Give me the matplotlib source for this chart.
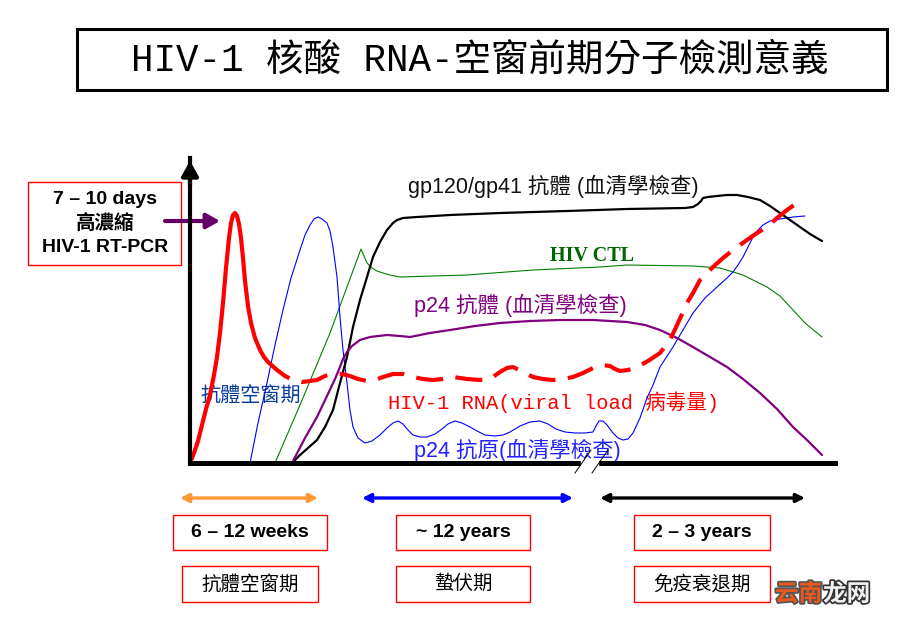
import matplotlib
matplotlib.use("Agg")
import matplotlib.pyplot as plt
from matplotlib.patches import Rectangle
import matplotlib.patheffects as pe

# ---------------- data (time units, level units) ----------------
rna_peak_x = [0, 4, 8, 12, 16, 20, 24, 27, 30, 33, 36, 39, 41, 43, 45, 47, 49, 51, 53, 55,
              58, 61, 65, 70, 74, 78]
rna_peak_y = [0, 10, 22, 38, 54, 68, 88, 106, 130, 160, 195, 225, 240, 248, 250, 247, 239,
              225, 205, 182, 157, 140, 125, 113, 106, 101]

rna_set_x = [78, 87, 95, 103, 112, 120, 127, 135, 143, 152, 160, 168, 177, 185, 193, 203, 213,
             223, 233, 243, 253, 263, 277, 290, 300, 310, 317, 323, 333, 343, 353, 363, 373,
             383, 393, 403, 412, 420, 425, 430, 438, 447, 458, 470, 480, 488, 497, 503, 510,
             517, 523, 533, 543, 557, 567, 577, 587, 597, 604, 610]
rna_set_y = [101, 93, 87, 83, 81, 82, 83, 87, 89, 89, 87, 84, 82, 83, 86, 89, 89,
             86, 84, 83, 84, 86, 84, 83, 84, 91, 95, 96, 91, 86, 84, 83, 84,
             86, 90, 95, 98, 97, 94, 92, 93, 96, 102, 110, 123, 140, 160, 170, 183,
             190, 196, 205, 213, 223, 230, 236, 245, 253, 258, 261]

p24ag_x = [60, 68, 77, 85, 93, 101, 110, 115, 120, 124, 128, 132, 137, 140, 143, 147, 150,
           153, 157, 160, 163, 168, 175, 182, 190, 197, 203, 208, 213, 218, 223, 230, 237,
           245, 252, 258, 265, 272, 280, 287, 295, 305, 313, 320, 330, 340, 350, 358, 366,
           375, 385, 395, 403, 406, 409, 413, 417, 423, 428, 433, 438, 443, 450, 457, 463,
           470, 483, 493, 503, 515, 527, 537, 543, 548, 553, 558, 563, 568, 573, 580, 590,
           603, 615]
p24ag_y = [0, 40, 80, 118, 153, 185, 213, 228, 238, 244, 246, 244, 240, 232, 216, 186, 146,
           113, 80, 53, 36, 25, 20, 22, 28, 35, 40, 42, 39, 33, 28, 26, 26,
           29, 34, 39, 42, 40, 36, 32, 28, 27, 28, 31, 37, 41, 42, 39, 34,
           31, 30, 30, 31, 37, 42, 42, 38, 30, 25, 23, 24, 30, 45, 65, 78,
           96, 116, 133, 150, 165, 176, 185, 191, 198, 206, 216, 226, 233, 238, 242, 244,
           246, 247]

ctl_x = [85, 110, 140, 171, 174, 177, 182, 187, 193, 200, 210, 277, 343, 410, 437, 503, 530,
         553, 577, 590, 603, 615, 632]
ctl_y = [0, 58, 130, 214, 207, 200, 195, 192, 190, 188, 186, 188, 193, 196, 198, 197, 195,
         188, 176, 167, 153, 140, 126]

gp_x = [102, 110, 118, 127, 135, 143, 150, 157, 163, 170, 177, 183, 190, 197, 203, 207, 213,
        227, 260, 310, 377, 437, 495, 503, 508, 511, 513, 518, 527, 537, 547, 558, 570, 580,
        590, 600, 610, 620, 632]
gp_y = [0, 8, 15, 23, 36, 53, 80, 106, 136, 163, 186, 206, 221, 233, 240, 243, 245,
        246, 248, 250, 252, 254, 255, 256, 259, 262, 265, 266, 267, 268, 268, 266, 263, 257,
        250, 243, 236, 229, 222]

p24ab_x = [102, 115, 127, 137, 145, 150, 153, 157, 162, 170, 180, 197, 210, 220, 240, 260,
           285, 310, 340, 370, 403, 437, 455, 470, 487, 503, 520, 537, 553, 570, 587, 603,
           618, 632]
p24ab_y = [0, 25, 46, 67, 84, 96, 104, 111, 117, 123, 126, 128, 127, 126, 130, 133,
           137, 140, 142, 143, 143, 141, 138, 133, 125, 116, 106, 96, 84, 70, 54, 36,
           22, 8]

# ---------------- text ----------------
title = "HIV-1 核酸 RNA-空窗前期分子檢測意義"
peak_box_lines = ["7 – 10 days", "高濃縮", "HIV-1 RT-PCR"]
lbl_gp = "gp120/gp41 抗體 (血清學檢查)"
lbl_ctl = "HIV CTL"
lbl_p24ab = "p24 抗體 (血清學檢查)"
lbl_rna = "HIV-1 RNA(viral load 病毒量)"
lbl_p24ag = "p24 抗原(血清學檢查)"
lbl_window = "抗體空窗期"
durations = ["6 – 12 weeks", "~ 12 years", "2 – 3 years"]
stages = ["抗體空窗期", "蟄伏期", "免疫衰退期"]

SANS = ["Liberation Sans", "Noto Sans CJK TC"]
MONO = ["Liberation Mono", "Noto Sans CJK TC"]
SERIF = ["Liberation Serif", "Noto Sans CJK TC"]

W, H = 907, 623
fig = plt.figure(figsize=(W / 100, H / 100), dpi=100)

# overlay axes in pixel coordinates for layout elements
ov = fig.add_axes([0, 0, 1, 1])
ov.set_xlim(0, W)
ov.set_ylim(H, 0)
ov.axis("off")

# chart axes
x0, y0, x1, y1 = 190, 463, 835, 158
ax = fig.add_axes([x0 / W, 1 - y0 / H, (x1 - x0) / W, (y0 - y1) / H])
ax.set_xlim(0, x1 - x0)
ax.set_ylim(0, y0 - y1)
ax.patch.set_alpha(0)
for s in ["top", "right"]:
    ax.spines[s].set_visible(False)
ax.spines["left"].set_linewidth(3.0)
ax.spines["bottom"].set_linewidth(3.6)
ax.set_xticks([])
ax.set_yticks([])
ax.annotate("", xy=(0, 1.0), xycoords="axes fraction", xytext=(0, 0.9),
            arrowprops=dict(arrowstyle="-|>,head_length=0.9,head_width=0.5",
                            color="black", lw=3))

kw = dict(clip_on=False, solid_capstyle="round", solid_joinstyle="round")
ax.plot(ctl_x, ctl_y, color="#008000", lw=0.8, **kw)
ax.plot(p24ag_x, p24ag_y, color="#0000FF", lw=0.8, **kw)
ax.plot(gp_x, gp_y, color="black", lw=1.6, **kw)
ax.plot(p24ab_x, p24ab_y, color="#800080", lw=1.6, **kw)
ax.plot(rna_peak_x, rna_peak_y, color="#FF0000", lw=3.0, **kw)
ax.plot(rna_set_x, rna_set_y, color="#FF0000", lw=3.0, dashes=(6.5, 3), clip_on=False)

# axis break
ax.add_patch(Rectangle((391, -4), 17, 8, color="white", clip_on=False, zorder=5))
ax.plot([385, 401], [-10, 13], color="black", lw=0.7, clip_on=False, zorder=6)
ax.plot([402, 418], [-10, 13], color="black", lw=0.7, clip_on=False, zorder=6)

# ---------------- layout elements ----------------
ov.add_patch(Rectangle((77, 29), 810, 61, fill=False, lw=2.2, ec="black"))
ov.text(480, 61, title, family=MONO, fontsize=27, ha="center", va="center")

ov.add_patch(Rectangle((28, 182), 153, 83, fill=False, lw=1, ec="#FF0000"))
for ty, t in zip([199, 224, 247], peak_box_lines):
    ov.text(105, ty, t, family=SANS, fontsize=14, fontweight="bold", ha="center", va="center")
ov.annotate("", xy=(220, 221), xytext=(165, 221),
            arrowprops=dict(arrowstyle="-|>,head_length=0.8,head_width=0.45",
                            color="#660066", lw=3.0, shrinkA=0, shrinkB=0))

ov.text(408, 186, lbl_gp, family=SANS, fontsize=15.5, ha="left", va="center", color="#111111")
ov.text(550, 256, lbl_ctl, family=SERIF, fontsize=14.5, fontweight="bold", ha="left",
        va="center", color="#006600")
ov.text(414, 305, lbl_p24ab, family=SANS, fontsize=15.5, ha="left", va="center", color="#800080")
ov.text(388, 402, lbl_rna, family=MONO, fontsize=14.8, ha="left", va="center", color="#FF0000")
ov.text(414, 450, lbl_p24ag, family=SANS, fontsize=15.5, ha="left", va="center", color="#2222FF")
ov.text(251, 396, lbl_window, family=SANS, fontsize=14.5, ha="center", va="center", color="#0A3C9A")

# period arrows
arrow_cfg = [((180, 318), "#FF9933"), ((362, 573), "#0000FF"), ((600, 805), "black")]
for (xa, xb), c in arrow_cfg:
    ov.annotate("", xy=(xb, 498), xytext=(xa, 498),
                arrowprops=dict(arrowstyle="<|-|>,head_length=0.5,head_width=0.25",
                                color=c, lw=2.4, shrinkA=0, shrinkB=0))

dur_boxes = [(173, 154), (396, 134), (634, 136)]
for (bx, bw), t in zip(dur_boxes, durations):
    ov.add_patch(Rectangle((bx, 515), bw, 35, fill=False, lw=1, ec="#FF0000"))
    ov.text(bx + bw / 2, 532.5, t, family=SANS, fontsize=14, fontweight="bold",
            ha="center", va="center")

stage_boxes = [(182, 136), (396, 134), (634, 136)]
for (bx, bw), t in zip(stage_boxes, stages):
    ov.add_patch(Rectangle((bx, 566), bw, 36, fill=False, lw=1, ec="#FF0000"))
    ov.text(bx + bw / 2, 584, t, family=SANS, fontsize=14, ha="center", va="center")

# watermark
ov.text(775, 594, "云南", family=["Noto Sans CJK SC"], fontsize=17, fontweight="bold",
        color="#E8581C", ha="left", va="center",
        path_effects=[pe.withStroke(linewidth=2.5, foreground="#555555")])
ov.text(823, 594, "龙网", family=["Noto Sans CJK SC"], fontsize=17, fontweight="bold",
        color="#F0F0F0", ha="left", va="center",
        path_effects=[pe.withStroke(linewidth=2.5, foreground="#333333")])

fig.savefig("out.png", dpi=100)
